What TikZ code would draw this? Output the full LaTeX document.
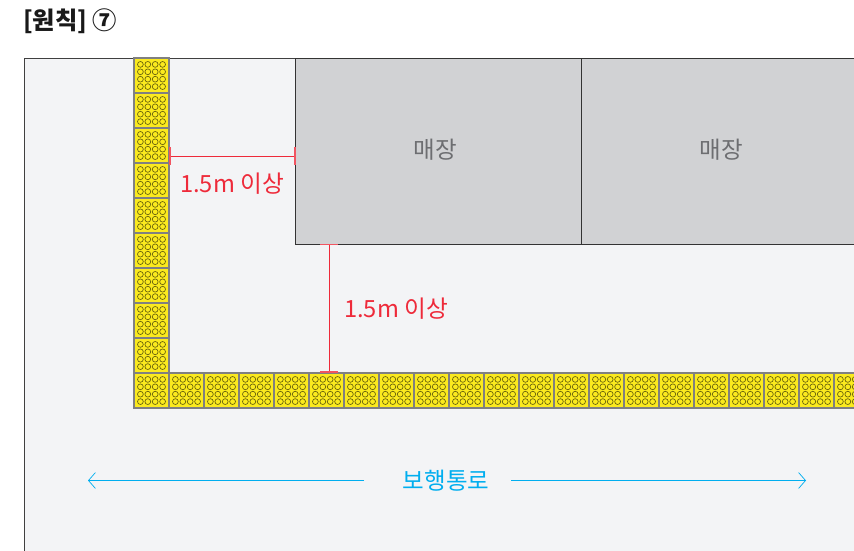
\documentclass[tikz,border=0pt]{standalone}
\usepackage{fontspec}
\setmainfont{Noto Sans CJK KR}
\usetikzlibrary{arrows.meta}
\definecolor{panelgray}{HTML}{F3F4F6}
\definecolor{storegray}{HTML}{D1D2D4}
\definecolor{storetext}{HTML}{6D6E71}
\definecolor{tileyellow}{HTML}{FBEA1E}
\definecolor{dimred}{HTML}{EE2A3A}
\definecolor{walkblue}{HTML}{00AEEF}
\newcommand{\arw}{-{Straight Barb[length=7pt,width=16pt]}}
\tikzset{
  store/.style={draw=black!80,fill=storegray,minimum height=186,inner sep=0,line width=.8pt},
  tile/.style={draw=black!50,fill=tileyellow,minimum size=35,inner sep=0,line width=1.1pt,
    path picture={
      \foreach \a in {-11.1,-3.7,3.7,11.1}
        \foreach \b in {-11.1,-3.7,3.7,11.1}
          \draw[black!60!tileyellow,line width=.65pt] (path picture bounding box.center) ++(\a,\b) circle (2.9);
    }},
  storetxt/.style={text=storetext,font=\fontsize{23.5}{28}\selectfont,inner sep=0},
  dimline/.style={dimred,line width=.8pt},
  dimtick/.style={dimred!80,line width=1.3pt},
  dimlabel/.style={text=dimred,font=\fontsize{23.7}{28}\selectfont,inner sep=0},
  walkline/.style={walkblue,line width=.7pt}
}
\begin{document}
\begin{tikzpicture}[x=1pt,y=-1pt]
\useasboundingbox (0,0) rectangle (854,551);
\clip (0,0) rectangle (854,551);
\node[anchor=west,inner sep=0,font=\fontsize{24.3}{28}\bfseries\selectfont,text=black!90] (title) at (23,21) {[원칙] ⑦};
%panel
\draw[black!75,fill=panelgray,line width=.9pt] (24,560) -- (24,58) -- (870,58) -- (870,560);
%stores
\node[store,minimum width=286] (storeA) at (438,151) {};
\node[store,minimum width=286] (storeB) at (724,151) {};
\node[storetxt] (storeAtxt) at (435,150) {매장};
\node[storetxt] (storeBtxt) at (721,150) {매장};
%tiles going down
\foreach \i in {0,...,9}
  \node[tile] (v\i) at (151.5,75.5+35*\i) {};
%tiles going right
\foreach \i in {1,...,20}
  \node[tile] (h\i) at (151.5+35*\i,390.5) {};
%distance to the side of the store
\coordinate (sideL) at (169,156);
\coordinate (sideR) at (295,156);
\draw[dimline] (sideL) -- (sideR);
\draw[dimtick] (170,147) -- (170,165);
\draw[dimtick] (295,147) -- (295,165);
\node[dimlabel,anchor=west] (sideTxt) at (180,184) {1.5m 이상};
%distance to the front of the store
\coordinate (frontT) at (329,244);
\coordinate (frontB) at (329,373);
\draw[dimline] (frontT) -- (frontB);
\draw[dimtick] (320,244.5) -- (338,244.5);
\draw[dimtick] (320,372) -- (338,372);
\node[dimlabel,anchor=west] (frontTxt) at (344,309) {1.5m 이상};
%walkway
\node[text=walkblue,font=\fontsize{23.5}{28}\selectfont,inner sep=0] (walk) at (446,481) {보행통로};
\coordinate (walkL) at (364,480.5);
\coordinate (walkLend) at (88,480.5);
\coordinate (walkR) at (511,480.5);
\coordinate (walkRend) at (806,480.5);
\draw[walkline,\arw] (walkL) -- (walkLend);
\draw[walkline,\arw] (walkR) -- (walkRend);
\end{tikzpicture}
\end{document}
